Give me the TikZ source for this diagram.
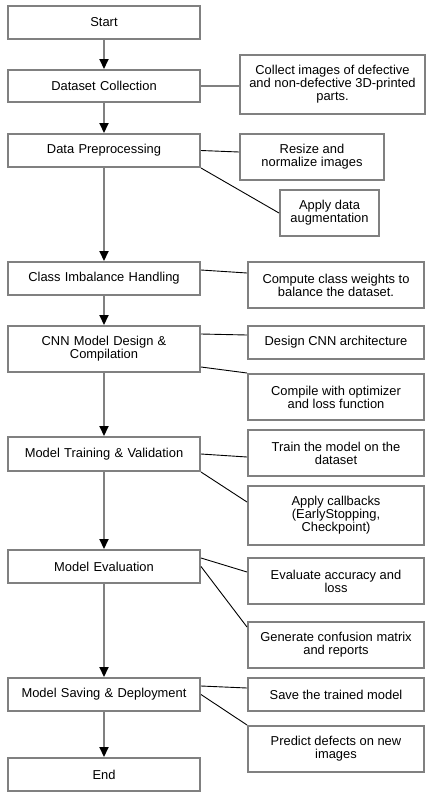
\documentclass[tikz,border=0pt]{standalone}
\usepackage{fontspec}
\setmainfont{Liberation Sans}
\usetikzlibrary{calc,arrows.meta}
\definecolor{bordergray}{HTML}{808080}
\begin{document}
\begin{tikzpicture}[x=1pt,y=-1pt,
  box/.style={draw=bordergray,line width=2pt,fill=white,inner sep=0pt,align=center,
    font=\fontsize{12.9}{13.1}\selectfont},
  lbox/.style={box,minimum width=192pt,text width=184pt},
  flow/.style={draw=bordergray,line width=2pt,-{Triangle[black,length=10pt,width=9pt]},shorten >=0pt},
  link/.style={draw=black,line width=0.9pt},
  glink/.style={draw=bordergray,line width=1.5pt}]
\useasboundingbox (0,0) rectangle (432,801);
% left column
\node[lbox,minimum height=33pt] (start) at (104,22.5) {Start};
\node[lbox,minimum height=32pt] (dc) at (104,86) {Dataset Collection};
\node[lbox,minimum height=33pt] (dp) at (104,150.5) {Data Preprocessing};
\node[lbox,minimum height=33pt] (ci) at (104,278.5) {Class Imbalance Handling};
\node[lbox,minimum height=46pt] (cnn) at (104,349) {CNN Model Design \&\\Compilation};
\node[lbox,minimum height=34pt] (mt) at (104,454) {Model Training \& Validation};
\node[lbox,minimum height=33pt] (me) at (104,566.5) {Model Evaluation};
\node[lbox,minimum height=33pt] (ms) at (104,694.5) {Model Saving \& Deployment};
\node[lbox,minimum height=33pt] (end) at (104,774.5) {End};
% right column
\node[box,minimum width=185pt,minimum height=59pt] (collect) at (332.5,84.5) {Collect images of defective\\and non-defective 3D-printed\\parts.};
\node[box,minimum width=144pt,minimum height=46pt] (resize) at (312,157) {Resize and\\normalize images};
\node[box,minimum width=99pt,minimum height=46pt] (aug) at (329.5,213) {Apply data\\augmentation};
\node[box,minimum width=176pt,minimum height=46pt] (cw) at (336,285) {Compute class weights to\\balance the dataset.};
\node[box,minimum width=176pt,minimum height=33pt] (design) at (336,342.5) {Design CNN architecture};
\node[box,minimum width=176pt,minimum height=46pt] (compile) at (336,397) {Compile with optimizer\\and loss function};
\node[box,minimum width=176pt,minimum height=46pt] (train) at (336,453) {Train the model on the\\dataset};
\node[box,minimum width=176pt,minimum height=59pt] (cb) at (336,515.5) {Apply callbacks\\(EarlyStopping,\\Checkpoint)};
\node[box,minimum width=176pt,minimum height=46pt] (eval) at (336,581) {Evaluate accuracy and\\loss};
\node[box,minimum width=176pt,minimum height=46pt] (gen) at (336,645) {Generate confusion matrix\\and reports};
\node[box,minimum width=176pt,minimum height=33pt] (save) at (336,694.5) {Save the trained model};
\node[box,minimum width=176pt,minimum height=46pt] (pred) at (336,749) {Predict defects on new\\images};
% flow arrows
\draw[flow] (start) -- (dc);
\draw[flow] (dc) -- (dp);
\draw[flow] (dp) -- (ci);
\draw[flow] (ci) -- (cnn);
\draw[flow] (cnn) -- (mt);
\draw[flow] (mt) -- (me);
\draw[flow] (me) -- (ms);
\draw[flow] (ms) -- (end);
% side links
\draw[glink] (dc.east) -- (dc.east -| collect.west);
\draw[link] (dp.east) -- ([yshift=5pt]resize.west);
\draw[link] (dp.south east) -- (aug.west);
\draw[link] ([yshift=8.5pt]ci.east) -- ([yshift=12pt]cw.west);
\draw[link] ([yshift=15pt]cnn.east) -- ([yshift=7.5pt]design.west);
\draw[link] ([yshift=6pt]cnn.south east) -- (compile.north west);
\draw[link] (mt.east) -- ([yshift=-4pt]train.west);
\draw[link] (mt.south east) -- ([yshift=13.5pt]cb.west);
\draw[link] ([yshift=8.5pt]me.east) -- ([yshift=9pt]eval.west);
\draw[link] (me.east) -- ([yshift=-6pt]gen.north west);
\draw[link] ([yshift=8.5pt]ms.east) -- ([yshift=6.5pt]save.west);
\draw[link] (ms.east) -- (pred.north west);
\end{tikzpicture}
\end{document}
